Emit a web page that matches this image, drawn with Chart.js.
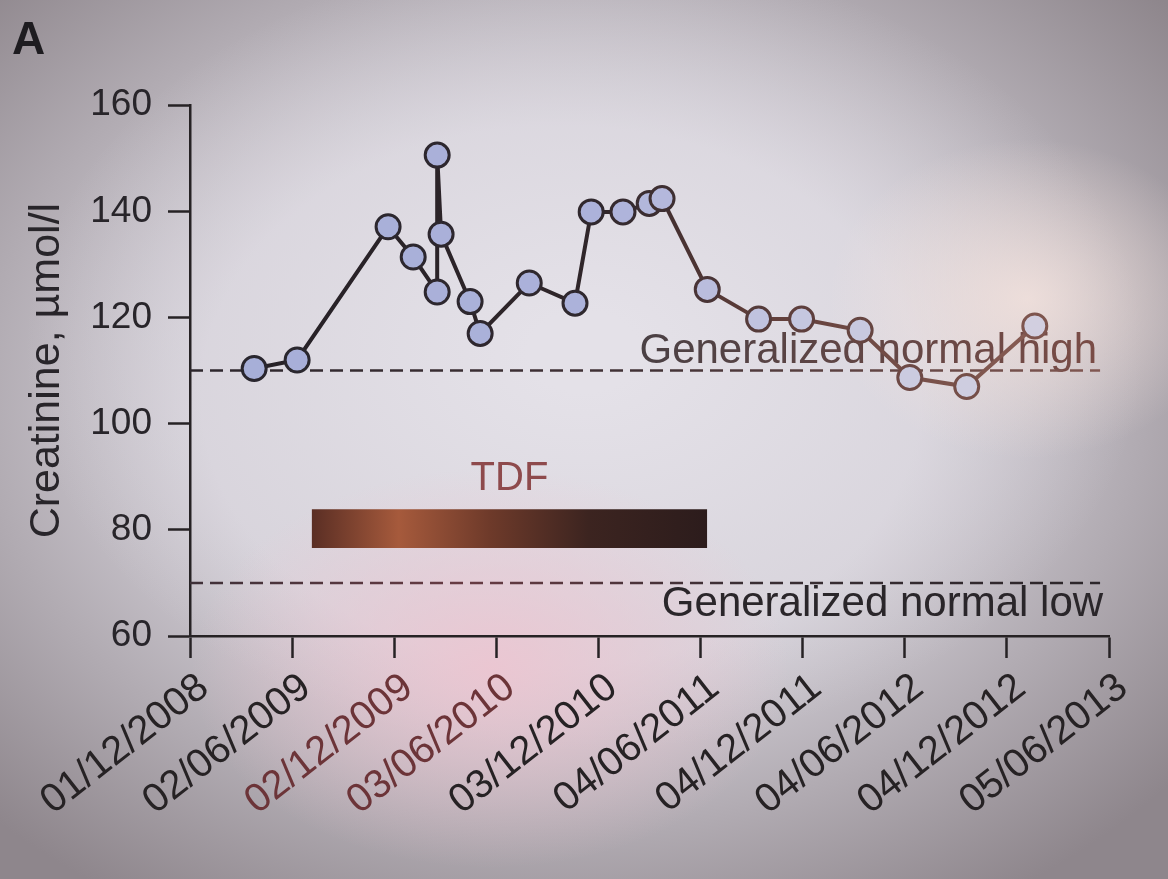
<!DOCTYPE html>
<html>
<head>
<meta charset="utf-8">
<title>Creatinine</title>
<script src="https://cdn.jsdelivr.net/npm/chart.js@4.4.1/dist/chart.umd.min.js"></script>
<style>
  html, body { margin: 0; padding: 0; }
  body {
    width: 1168px;
    height: 879px;
    overflow: hidden;
    background:
      radial-gradient(ellipse 300px 200px at 42% 76%, rgba(238, 196, 208, 0.85), rgba(238, 196, 208, 0)),
      radial-gradient(ellipse 200px 160px at 88% 34%, rgba(246, 228, 222, 0.8), rgba(246, 228, 222, 0)),
      radial-gradient(ellipse 560px 400px at 50% 40%, #e4e1e8 10%, rgba(228, 225, 232, 0) 100%),
      radial-gradient(ellipse 800px 600px at 48% 45%, #d4d0d8 45%, #8e868c 100%);
  }
</style>
</head>
<body>
<canvas id="creatinineChart" width="1168" height="879"></canvas>
<script>
// Creatinine samples (dd/mm/yyyy) and values in umol/l
const sampleDates = [
    '26/03/2009', '11/06/2009', '21/11/2009', '05/01/2010', '17/02/2010',
    '17/02/2010', '24/02/2010', '17/04/2010', '05/05/2010', '01/08/2010',
    '22/10/2010', '20/11/2010', '16/01/2011', '04/03/2011', '27/03/2011',
    '16/06/2011', '16/09/2011', '02/12/2011', '16/03/2012', '13/06/2012',
    '23/09/2012', '23/01/2013'
];
const creatinine = [
    110.4, 112.0, 137.1, 131.4, 124.8,
    150.6, 135.7, 123.0, 117.0, 126.5,
    122.7, 139.9, 139.9, 141.5, 142.4,
    125.3, 119.7, 119.7, 117.6, 108.7,
    107.0, 118.4
];

// Axis ticks
const tickDates = [
    '01/12/2008', '02/06/2009', '02/12/2009', '03/06/2010', '03/12/2010',
    '04/06/2011', '04/12/2011', '04/06/2012', '04/12/2012', '05/06/2013'
];
const yTicks = [60, 80, 100, 120, 140, 160];

// Reference lines and the TDF treatment period
const normalLimits = [70, 110];
const normalLabels = ['Generalized normal low', 'Generalized normal high'];
const refLineDates = ['01/12/2008', '20/05/2013'];
const tdfPeriod = ['07/07/2009', '16/06/2011'];
const tdfRange = [76.6, 83.9];

const FONT = "'Liberation Sans', Arial, Helvetica, sans-serif";
const AXIS_COLOR = '#262224';

function toDay(str) {
    const [d, m, y] = str.split('/').map(Number);
    return Math.round((Date.UTC(y, m - 1, d) - Date.UTC(2008, 11, 1)) / 86400000);
}

const tickDays = tickDates.map(toDay);
const xMax = tickDays[tickDays.length - 1];
const points = sampleDates.map((d, i) => ({ x: toDay(d), y: creatinine[i] }));

// colour helpers - the photo shifts from grey/blue on the left to a warm tint on the right
function lerpColor(stops, t) {
    t = Math.max(0, Math.min(1, t));
    for (let i = 1; i < stops.length; i++) {
        if (t <= stops[i][0]) {
            const [t0, c0] = stops[i - 1];
            const [t1, c1] = stops[i];
            const k = (t - t0) / (t1 - t0 || 1);
            const c = c0.map((v, j) => Math.round(v + (c1[j] - v) * k));
            return `rgb(${c[0]},${c[1]},${c[2]})`;
        }
    }
    const c = stops[stops.length - 1][1];
    return `rgb(${c[0]},${c[1]},${c[2]})`;
}
const markerFill = [[0, [166, 174, 216]], [0.45, [172, 178, 218]], [0.65, [196, 198, 224]], [1, [214, 210, 224]]];
const markerEdge = [[0, [40, 38, 46]], [0.45, [48, 40, 46]], [0.65, [92, 62, 60]], [1, [136, 92, 84]]];
const lineStops = [[0, [36, 32, 38]], [0.45, [48, 38, 42]], [0.62, [96, 62, 58]], [1, [146, 100, 90]]];

function xGradient(chart, stops) {
    const area = chart.chartArea;
    if (!area) return lerpColor(stops, 0);
    const g = chart.ctx.createLinearGradient(area.left, 0, area.right, 0);
    stops.forEach(([t, c]) => g.addColorStop(t, `rgb(${c[0]},${c[1]},${c[2]})`));
    return g;
}

function tdfGradient(ctx) {
    const chart = ctx.chart;
    if (!chart.chartArea) return '#4a2a22';
    const xs = chart.scales.x;
    const x0 = xs.getPixelForValue(toDay(tdfPeriod[0]));
    const x1 = xs.getPixelForValue(toDay(tdfPeriod[1]));
    const g = chart.ctx.createLinearGradient(x0, 0, x1, 0);
    g.addColorStop(0, '#5a2e24');
    g.addColorStop(0.22, '#a65a3c');
    g.addColorStop(0.45, '#6e3a2a');
    g.addColorStop(0.7, '#3c2420');
    g.addColorStop(1, '#2c1c1c');
    return g;
}

// Text annotations drawn through the scales
const annotationText = {
    id: 'annotationText',
    beforeDatasetsDraw(chart) {
        const { ctx, scales: { x, y } } = chart;
        ctx.save();
        ctx.font = `42px ${FONT}`;
        ctx.textAlign = 'right';
        ctx.textBaseline = 'alphabetic';
        const lineEnd = x.getPixelForValue(toDay(refLineDates[1]));

        // normal high, above its line
        const hiY = y.getPixelForValue(normalLimits[1]) - 8;
        const hiGrad = ctx.createLinearGradient(lineEnd - 460, 0, lineEnd, 0);
        hiGrad.addColorStop(0, '#4a4044');
        hiGrad.addColorStop(1, '#7a4c46');
        ctx.fillStyle = hiGrad;
        ctx.fillText(normalLabels[1], lineEnd - 3, hiY);

        // normal low, below its line
        ctx.fillStyle = '#2a262a';
        ctx.fillText(normalLabels[0], lineEnd + 3, y.getPixelForValue(normalLimits[0]) + 33);

        // TDF label over the bar
        const mid = (x.getPixelForValue(toDay(tdfPeriod[0])) + x.getPixelForValue(toDay(tdfPeriod[1]))) / 2;
        ctx.font = `40px ${FONT}`;
        ctx.textAlign = 'center';
        ctx.fillStyle = '#8e4a4c';
        ctx.fillText('TDF', mid, y.getPixelForValue(tdfRange[1]) - 19);
        ctx.restore();
    }
};

const refStart = toDay(refLineDates[0]);
const refEnd = toDay(refLineDates[1]);

const chart = new Chart(document.getElementById('creatinineChart'), {
    type: 'line',
    data: {
        datasets: [
            {
                label: 'Creatinine',
                data: points,
                borderColor: ctx => xGradient(ctx.chart, lineStops),
                borderWidth: 4,
                pointRadius: 12,
                pointHoverRadius: 12,
                pointBorderWidth: 3,
                pointBackgroundColor: ctx => lerpColor(markerFill, (ctx.raw ? ctx.raw.x : 0) / xMax),
                pointBorderColor: ctx => lerpColor(markerEdge, (ctx.raw ? ctx.raw.x : 0) / xMax),
                tension: 0,
                fill: false
            },
            {
                label: 'Normal high',
                data: [{ x: refStart, y: normalLimits[1] }, { x: refEnd, y: normalLimits[1] }],
                borderColor: ctx => xGradient(ctx.chart, [[0, [44, 38, 44]], [0.5, [66, 50, 54]], [1, [130, 88, 82]]]),
                borderWidth: 2.5,
                borderDash: [13, 7],
                pointRadius: 0,
                fill: false
            },
            {
                label: 'Normal low',
                data: [{ x: refStart, y: normalLimits[0] }, { x: refEnd, y: normalLimits[0] }],
                borderColor: ctx => xGradient(ctx.chart, [[0, [62, 48, 56]], [0.3, [104, 60, 68]], [0.6, [58, 46, 52]], [1, [44, 38, 42]]]),
                borderWidth: 2.5,
                borderDash: [13, 7],
                pointRadius: 0,
                fill: false
            },
            {
                label: 'TDF',
                data: [{ x: toDay(tdfPeriod[0]), y: tdfRange[1] }, { x: toDay(tdfPeriod[1]), y: tdfRange[1] }],
                borderWidth: 0,
                borderColor: 'rgba(0,0,0,0)',
                backgroundColor: tdfGradient,
                pointRadius: 0,
                fill: { value: tdfRange[0] }
            }
        ]
    },
    options: {
        responsive: false,
        animation: false,
        layout: { padding: { left: 12, top: 14, right: 59, bottom: 0 } },
        plugins: {
            legend: { display: false },
            tooltip: { enabled: false },
            title: {
                display: true,
                text: 'A',
                align: 'start',
                color: '#1e1c20',
                font: { family: FONT, size: 46, weight: 'bold' },
                padding: { top: 0, bottom: 36 }
            }
        },
        scales: {
            x: {
                type: 'linear',
                min: 0,
                max: xMax,
                afterBuildTicks: scale => { scale.ticks = tickDays.map(v => ({ value: v })); },
                afterFit: scale => { scale.height = 243; },
                ticks: {
                    autoSkip: false,
                    minRotation: 38,
                    maxRotation: 38,
                    padding: 6,
                    labelOffset: 14,
                    font: { family: FONT, size: 40 },
                    color: ctx => (ctx.index === 2 || ctx.index === 3) ? '#6c3438' : '#262224',
                    callback: (v, i) => tickDates[i]
                },
                grid: {
                    drawOnChartArea: false,
                    drawTicks: true,
                    tickLength: 22,
                    tickWidth: 2.5,
                    color: AXIS_COLOR
                },
                border: { display: true, color: AXIS_COLOR, width: 2.5 }
            },
            y: {
                min: yTicks[0],
                max: yTicks[yTicks.length - 1],
                afterBuildTicks: scale => { scale.ticks = yTicks.map(v => ({ value: v })); },
                afterFit: scale => { scale.width = 178; },
                ticks: {
                    padding: 16,
                    font: { family: FONT, size: 37 },
                    color: '#28252a'
                },
                title: {
                    display: true,
                    text: 'Creatinine, µmol/l',
                    color: '#28252a',
                    font: { family: FONT, size: 43 },
                    padding: { top: 9, bottom: 0 }
                },
                grid: {
                    drawOnChartArea: false,
                    drawTicks: true,
                    tickLength: 22,
                    tickWidth: 2.5,
                    color: AXIS_COLOR
                },
                border: { display: true, color: AXIS_COLOR, width: 2.5 }
            }
        }
    },
    plugins: [annotationText]
});
</script>
</body>
</html>
